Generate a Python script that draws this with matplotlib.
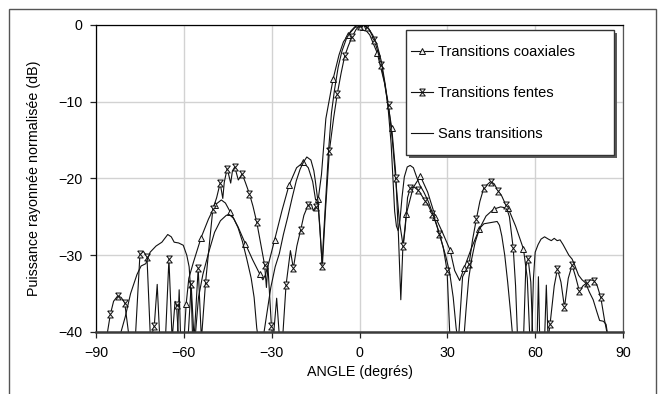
import numpy as np
import matplotlib
matplotlib.use("Agg")
import matplotlib.pyplot as plt
from matplotlib.patches import Rectangle

plt.rcParams['font.family'] = ['Liberation Sans', 'DejaVu Sans']
plt.rcParams['font.size'] = 10.3

# diagrammes de rayonnement (angle en degres, puissance en dB)
# transitions coaxiales : points marques (triangles)
coax_mk = np.array([
    [-59.2, -36.3], [-54.1, -27.7], [-49.2, -23.4], [-44.1, -24.4], [-39.0, -28.5],
    [-34.0, -32.5], [-29.0, -28.0], [-24.1, -20.9], [-19.2, -17.9], [-14.1, -22.7],
    [-9.0, -7.0], [-3.9, -1.3], [1.1, -0.2], [6.0, -3.6], [11.0, -13.4],
    [16.0, -24.6], [20.8, -19.7], [25.9, -25.0], [30.9, -29.3], [35.8, -31.6],
    [40.9, -26.6], [45.8, -24.0], [50.8, -23.9], [56.0, -29.2]])
# transitions coaxiales : points intermediaires de la trace
coax_ln = np.array([
    [-90, -42], [-62.3, -42], [-61.6, -34.5], [-61.0, -42], [-60.1, -42],
    [-58.3, -33.0], [-56.8, -31.0], [-51.6, -25.3], [-47.2, -22.8], [-45.8, -23.2],
    [-41.5, -26.3], [-36.5, -30.6], [-33.0, -33.2], [-32.2, -32.6], [-31.0, -31.0],
    [-26.5, -24.2], [-21.5, -18.6], [-17.5, -18.6], [-16.0, -20.4], [-15.0, -22.8],
    [-13.0, -19.5], [-11.5, -12.2], [-7.0, -3.9], [-5.5, -2.2], [-1.5, -0.3],
    [3.5, -1.3], [8.5, -7.5], [12.3, -19.0], [13.3, -27.5], [14.1, -35.8],
    [14.8, -29.0], [18.3, -21.2], [23.3, -21.8], [28.3, -27.0], [32.5, -32.0],
    [34.2, -33.3], [38.3, -29.0], [43.2, -24.9], [48.2, -23.7], [53.3, -26.2],
    [57.3, -33.0], [58.3, -42], [60.6, -42], [61.1, -32.8], [61.6, -42], [90, -42]])

# transitions fentes : points marques
fente_mk = np.array([
    [-85.1, -37.7], [-82.6, -35.3], [-80.2, -36.2], [-75.0, -29.9], [-72.6, -30.2],
    [-70.1, -39.2], [-65.1, -30.5], [-62.5, -36.5], [-57.5, -33.8], [-55.1, -31.7],
    [-52.6, -33.6], [-50.1, -24.0], [-47.6, -20.6], [-45.2, -18.7], [-42.6, -18.5],
    [-40.1, -19.4], [-37.6, -22.0], [-35.1, -25.7], [-32.4, -31.3], [-30.1, -39.2],
    [-25.1, -33.9], [-22.6, -31.7], [-20.1, -26.7], [-17.6, -23.5], [-15.0, -23.7],
    [-12.7, -31.4], [-10.3, -16.4], [-7.6, -9.0], [-5.1, -4.1], [-2.6, -1.6],
    [0.0, -0.1], [2.4, -0.3], [5.0, -1.9], [7.4, -5.2], [9.9, -10.4],
    [12.3, -19.9], [14.9, -28.8], [17.3, -21.3], [19.9, -21.5], [22.4, -22.9],
    [24.8, -24.6], [27.3, -27.2], [29.9, -32.0], [37.4, -31.2], [39.9, -25.3],
    [42.4, -21.3], [44.8, -20.4], [47.3, -21.6], [49.9, -23.4], [52.5, -29.1],
    [57.6, -30.5], [65.1, -38.9], [67.6, -31.8], [70.0, -36.8], [72.6, -31.3],
    [75.1, -34.7], [77.6, -33.6], [80.0, -33.3], [82.4, -35.5]])
fente_ln = np.array([
    [-90, -42], [-86.5, -41], [-84.0, -36.0], [-81.4, -35.5], [-78.6, -41],
    [-76.6, -41], [-73.8, -29.5], [-71.4, -41], [-69.1, -33.8], [-68.2, -41],
    [-66.3, -41], [-64.0, -41], [-63.0, -36.0], [-61.8, -41], [-58.6, -41],
    [-56.5, -41], [-54.0, -41], [-48.8, -22.5], [-46.7, -22.6], [-46.2, -20.5],
    [-44.0, -20.6], [-43.4, -19.0], [-41.4, -20.2], [-39.0, -20.5], [-36.4, -23.6],
    [-33.7, -28.6], [-31.8, -34.2], [-31.3, -31.3], [-29.5, -41], [-28.3, -35.6],
    [-27.3, -41], [-26.3, -41], [-23.6, -29.4], [-21.4, -28.8], [-19.0, -24.8],
    [-16.4, -23.4], [-15.8, -24.2], [-14.2, -23.0], [-11.6, -24.0], [-8.8, -12.0],
    [-6.3, -6.3], [-3.8, -2.7], [-1.2, -0.6], [1.2, 0.0], [3.7, -0.9],
    [6.2, -3.4], [8.6, -7.6], [11.2, -15.0], [13.6, -25.5], [15.6, -26.5],
    [16.4, -22.5], [18.6, -21.1], [21.2, -22.2], [23.6, -23.6], [26.0, -25.6],
    [28.6, -29.0], [30.9, -41], [33.8, -41], [35.2, -32.8], [38.6, -28.0],
    [41.1, -23.0], [43.6, -20.8], [46.0, -20.7], [48.6, -22.3], [51.2, -25.0],
    [53.3, -34.0], [54.0, -41], [56.0, -41], [56.8, -31.5], [58.5, -33.5],
    [59.2, -41], [63.2, -41], [63.8, -33.9], [64.4, -41], [66.5, -34.0],
    [68.8, -33.5], [71.3, -33.0], [73.8, -32.8], [76.3, -34.0], [78.8, -33.2],
    [81.2, -34.0], [83.7, -38.5], [85.0, -41], [90, -42]])

# sans transitions
sans = np.array([
    [-90, -42], [-82.2, -41], [-80.0, -38.0], [-78.2, -35.0], [-76.0, -32.5],
    [-74.6, -31.4], [-73.0, -31.1], [-71.5, -29.6], [-69.5, -28.8], [-67.5, -28.3],
    [-65.5, -27.3], [-64.3, -27.6], [-63.3, -28.3], [-61.8, -28.4], [-60.2, -28.7],
    [-59.0, -30.0], [-58.2, -31.5], [-57.4, -36.0], [-57.0, -41], [-56.2, -41],
    [-55.0, -35.5], [-53.5, -32.5], [-51.5, -29.6], [-49.5, -27.0], [-47.5, -25.5],
    [-45.5, -24.8], [-44.5, -24.7], [-43.0, -25.2], [-41.5, -26.4], [-40.0, -28.2],
    [-38.5, -30.5], [-37.0, -33.0], [-36.0, -35.5], [-35.1, -39.5], [-34.5, -41],
    [-33.0, -41], [-32.0, -38.5], [-30.3, -34.2], [-28.8, -31.5], [-27.4, -29.8],
    [-26.0, -27.3], [-24.5, -25.0], [-23.0, -22.5], [-21.6, -20.3], [-20.3, -18.8],
    [-19.2, -17.9], [-18.0, -17.2], [-16.6, -17.6], [-15.6, -19.0], [-15.1, -20.3],
    [-14.2, -23.0], [-13.5, -26.5], [-12.8, -31.2], [-12.2, -27.0], [-11.5, -22.5],
    [-10.6, -16.5], [-9.6, -11.5], [-8.6, -8.6], [-7.3, -5.5], [-6.0, -3.4],
    [-4.5, -1.8], [-3.0, -0.8], [-1.5, -0.2], [0.0, 0.0], [1.5, -0.05],
    [3.0, -0.4], [4.5, -1.3], [6.0, -2.6], [7.5, -4.8], [8.8, -7.8],
    [9.8, -11.0], [10.8, -15.5], [11.5, -20.5], [12.0, -24.3], [12.6, -26.2],
    [13.2, -26.8], [13.8, -25.5], [14.5, -22.5], [15.3, -19.8], [16.3, -18.5],
    [17.3, -18.3], [18.4, -18.6], [19.5, -19.8], [20.5, -20.8], [22.0, -21.8],
    [23.5, -23.0], [25.0, -24.6], [26.5, -26.3], [28.0, -28.2], [29.5, -30.2],
    [30.8, -32.3], [32.0, -35.5], [33.0, -39.5], [33.6, -41], [35.6, -41],
    [36.4, -37.0], [37.3, -33.0], [38.3, -30.5], [39.5, -28.3], [41.0, -26.5],
    [42.5, -25.9], [44.0, -25.8], [45.5, -25.7], [47.0, -25.6], [47.8, -26.1],
    [48.6, -27.5], [49.6, -30.0], [50.6, -33.5], [51.6, -37.5], [52.4, -41],
    [58.8, -41], [59.4, -33.0], [60.0, -29.6], [61.0, -28.6], [62.0, -27.9],
    [63.2, -27.6], [64.5, -27.9], [65.5, -28.1], [66.5, -27.8], [67.5, -28.1],
    [68.5, -28.0], [69.5, -28.6], [70.5, -29.3], [71.5, -30.0], [72.6, -30.5],
    [73.5, -31.3], [74.8, -32.6], [76.0, -33.2], [77.2, -33.6], [78.5, -34.8],
    [79.8, -35.8], [81.0, -37.3], [82.0, -38.5], [83.3, -38.6], [84.2, -39.0],
    [85.0, -41], [90, -42]])

labels = ['Transitions coaxiales', 'Transitions fentes', 'Sans transitions']
x_ticks = [-90, -60, -30, 0, 30, 60, 90]
y_ticks = [-40, -30, -20, -10, 0]


def merge(marked, extra):
    # trace complete triee en angle + indices des points marques
    pts = np.vstack([marked, extra])
    order = np.argsort(pts[:, 0], kind='stable')
    idx = np.nonzero(order < len(marked))[0]
    return pts[order, 0], pts[order, 1], list(idx)


# marqueur "sablier" des transitions fentes
hourglass = [(-0.8, 1), (0.8, 1), (-0.8, -1), (0.8, -1), (-0.8, 1)]

fig = plt.figure(figsize=(6.64, 3.94), dpi=100)
ax = fig.add_axes([0.1446, 0.1574, 0.7937, 0.7792])

# cadre exterieur
fig.patches.append(Rectangle((9 / 664, -0.05), 647 / 664, 1.05 - 9 / 394,
                             transform=fig.transFigure, fill=False,
                             edgecolor='#555555', lw=1.0))

ca, cd, ci = merge(coax_mk, coax_ln)
fa, fd, fi = merge(fente_mk, fente_ln)

ax.plot(ca, cd, color='#111111', lw=0.8, marker='^', markersize=4.5,
        markevery=ci, mfc='#eeeeee', mec='#111111', mew=0.7, label=labels[0])
ax.plot(fa, fd, color='#111111', lw=0.8, marker=hourglass, markersize=5,
        markevery=fi, mfc='#eeeeee', mec='#111111', mew=0.7, label=labels[1])
ax.plot(sans[:, 0], sans[:, 1], color='#111111', lw=0.8, label=labels[2])

ax.set_xlim(-90, 90)
ax.set_ylim(-40, 0)
ax.set_xticks(x_ticks)
ax.set_yticks(y_ticks)
ax.grid(True, color='#d2d2d2', lw=1.0)
ax.set_axisbelow(True)
ax.tick_params(direction='out', length=4, width=0.9, pad=6, colors='#222222')
ax.tick_params(labelcolor='black')

for s in ['top', 'left']:
    ax.spines[s].set_linewidth(0.9)
    ax.spines[s].set_color('black')
ax.spines['right'].set_linewidth(0.9)
ax.spines['right'].set_color('#555555')
ax.spines['bottom'].set_linewidth(1.8)
ax.spines['bottom'].set_color('#3a3a3a')

ax.set_xlabel('ANGLE (degrés)', labelpad=4)
ax.set_ylabel('Puissance rayonnée normalisée (dB)', labelpad=12)

# boite de legende avec ombre portee
bx0, by0, bw, bh = 0.588, 0.5765, 0.395, 0.4075
ax.add_patch(Rectangle((bx0 + 0.0057, by0 - 0.0098), bw, bh, transform=ax.transAxes,
                       facecolor='#5a5a5a', edgecolor='none', zorder=4))
ax.add_patch(Rectangle((bx0, by0), bw, bh, transform=ax.transAxes,
                       facecolor='white', edgecolor='#333333', lw=1.0, zorder=4.1))
ax.legend(loc='upper left', bbox_to_anchor=(0.5977, 0.935), borderaxespad=0,
          borderpad=0, frameon=False, labelspacing=1.86, handlelength=1.5,
          handletextpad=0.35, numpoints=1, fontsize=10.5)

fig.savefig('out.png', dpi=100)
